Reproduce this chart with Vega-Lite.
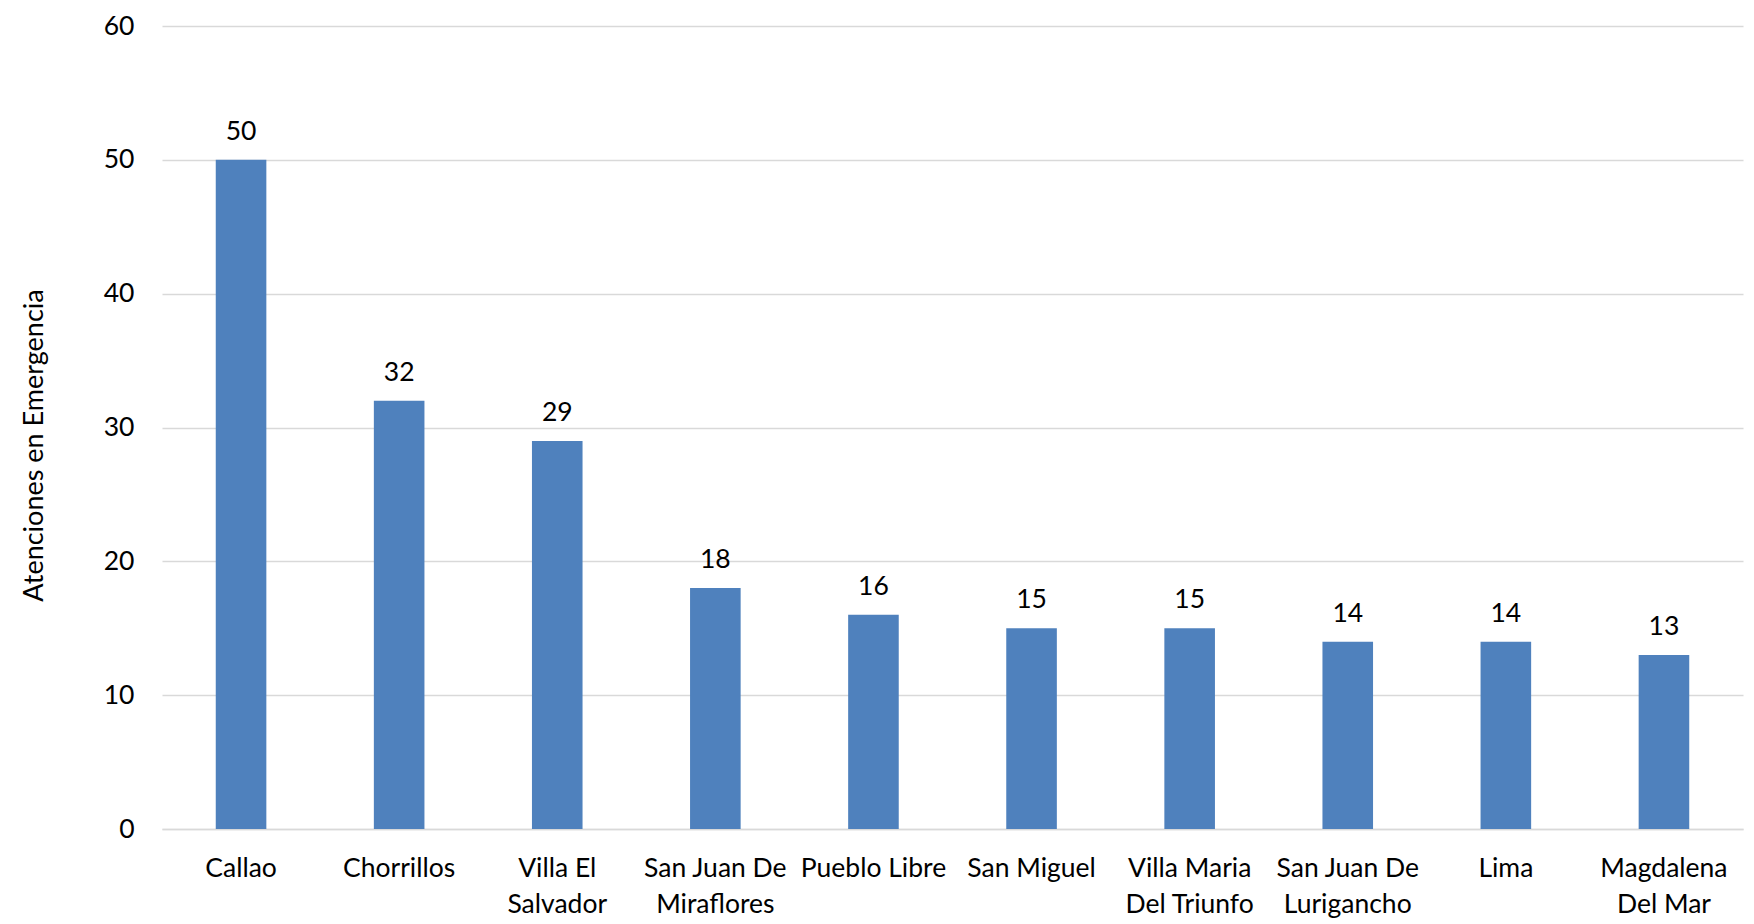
{
  "$schema": "https://vega.github.io/schema/vega-lite/v6.json",
  "autosize": "none",
  "width": 1581,
  "height": 803,
  "padding": {"left": 162, "top": 26, "right": 11, "bottom": 95},
  "background": "white",
  "config": {"view": {"stroke": null}, "font": "Lato"},
  "data": {"values": [
    {"distrito": "Callao", "atenciones": 50},
    {"distrito": "Chorrillos", "atenciones": 32},
    {"distrito": "Villa El|Salvador", "atenciones": 29},
    {"distrito": "San Juan De|Miraflores", "atenciones": 18},
    {"distrito": "Pueblo Libre", "atenciones": 16},
    {"distrito": "San Miguel", "atenciones": 15},
    {"distrito": "Villa Maria|Del Triunfo", "atenciones": 15},
    {"distrito": "San Juan De|Lurigancho", "atenciones": 14},
    {"distrito": "Lima", "atenciones": 14},
    {"distrito": "Magdalena|Del Mar", "atenciones": 13}
  ]},
  "encoding": {
    "x": {
      "field": "distrito", "type": "nominal", "sort": null,
      "scale": {"paddingInner": 0.68, "paddingOuter": 0.34},
      "axis": {
        "title": null, "labelAngle": 0, "ticks": false, "domain": true,
        "domainColor": "#D9D9D9", "domainWidth": 1.5,
        "labelExpr": "split(datum.label, '|')",
        "labelFont": "Lato", "labelFontSize": 26.5, "labelColor": "#000000",
        "labelPadding": 39, "labelLineHeight": 36, "labelBaseline": "middle",
        "labelOverlap": false
      }
    },
    "y": {
      "field": "atenciones", "type": "quantitative",
      "scale": {"domain": [0, 60], "nice": false},
      "axis": {
        "title": "Atenciones en Emergencia", "titleFont": "Lato", "titleFontSize": 27,
        "titleFontWeight": "normal", "titleColor": "#000000", "titlePadding": 55,
        "titleY": 419,
        "values": [0, 10, 20, 30, 40, 50, 60], "labelOverlap": false,
        "ticks": false, "domain": false, "grid": true, "gridColor": "#D9D9D9", "gridWidth": 1.5,
        "labelFont": "Lato", "labelFontSize": 26.5, "labelColor": "#000000", "labelPadding": 28
      }
    }
  },
  "layer": [
    {"mark": {"type": "bar", "color": "#4F81BD"}},
    {"mark": {"type": "text", "baseline": "bottom", "dy": -14, "font": "Lato", "fontSize": 26.5, "color": "#000000"},
     "encoding": {"text": {"field": "atenciones", "type": "quantitative"}}}
  ]
}
